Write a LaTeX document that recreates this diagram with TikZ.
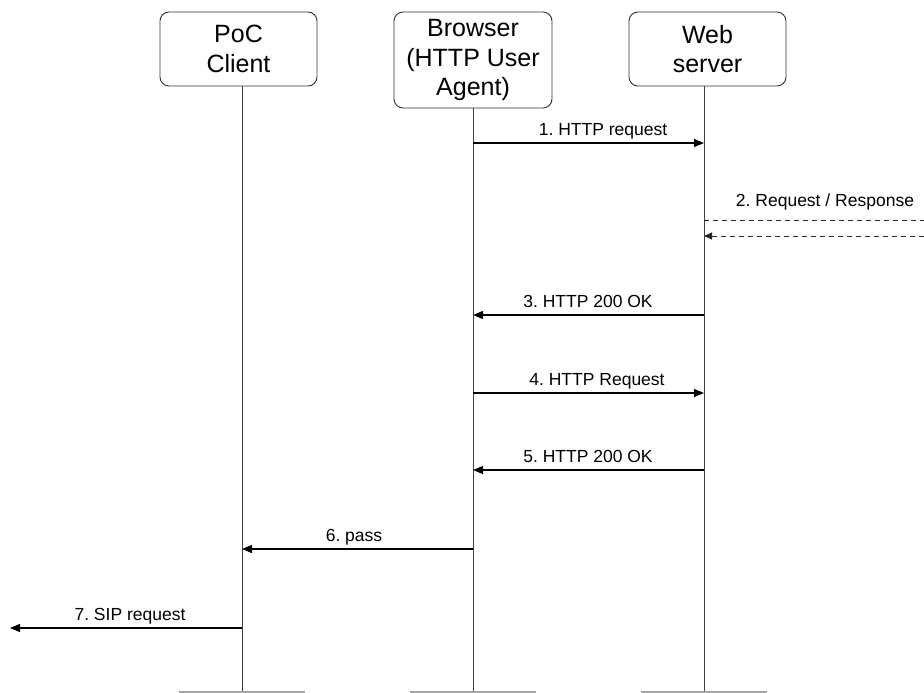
\documentclass[tikz,border=0pt]{standalone}
\usepackage{fontspec}
\setmainfont{Liberation Sans}
\frenchspacing
\usetikzlibrary{arrows.meta}
\begin{document}
\begin{tikzpicture}[x=1pt,y=-1pt,
  entity/.style={draw=black!80, line width=0.9pt, rounded corners=9pt, minimum width=157pt,
    align=center, font=\fontsize{25}{29.5}\selectfont, inner sep=0pt},
  life/.style={draw=black!75, line width=1pt},
  foot/.style={draw=black!35, line width=1.6pt},
  msg/.style={draw=black, line width=1.2pt, -{Triangle[length=10pt,width=8pt]}},
  dmsg/.style={draw=black!85, line width=0.9pt, dash pattern=on 5pt off 4pt},
  lbl/.style={font=\fontsize{17.5}{20}\selectfont\frenchspacing, anchor=base, inner sep=0pt}]
\useasboundingbox (0,0) rectangle (924,693);
% entities
\node[entity, minimum height=74pt] (poc) at (238.5,49) {PoC\\Client};
\node[entity, minimum height=96pt, minimum width=158pt] (br) at (473,60) {Browser\\(HTTP User\\Agent)};
\node[entity, minimum height=74pt] (ws) at (707.5,49) {Web\\server};
% lifeline ends
\coordinate (pocT) at (242,86);
\coordinate (pocE) at (242,691);
\coordinate (brE) at (473,691);
\coordinate (wsE) at (704,691);
\coordinate (wsT) at (704,86);
\draw[life] (pocT) -- (pocE);
\draw[life] (br.south) -- (brE);
\draw[life] (wsT) -- (wsE);
% feet
\coordinate (pocL) at (179,692); \coordinate (pocR) at (305,692);
\coordinate (brL) at (410,692); \coordinate (brR) at (536,692);
\coordinate (wsL) at (641,692); \coordinate (wsR) at (767,692);
\draw[foot] (pocL) -- (pocR);
\draw[foot] (brL) -- (brR);
\draw[foot] (wsL) -- (wsR);
% message end points
\coordinate (b1) at (473,143); \coordinate (w1) at (704,143);
\coordinate (w2a) at (704,220); \coordinate (x2a) at (924,220);
\coordinate (w2b) at (704,236); \coordinate (x2b) at (924,236);
\coordinate (w3) at (704,315); \coordinate (b3) at (473,315);
\coordinate (b4) at (473,393); \coordinate (w4) at (704,393);
\coordinate (w5) at (704,470); \coordinate (b5) at (473,470);
\coordinate (b6) at (473,549); \coordinate (p6) at (242,549);
\coordinate (p7) at (242,628); \coordinate (x7) at (10,628);
% messages
\draw[msg] (b1) -- (w1);
\node[lbl] (l1) at (603,135) {1. HTTP request};
\draw[dmsg] (w2a) -- (x2a);
\draw[dmsg, -{Triangle[length=8pt,width=7pt]}] (x2b) -- (w2b);
\node[lbl] (l2) at (825,206) {2. Request / Response};
\draw[msg] (w3) -- (b3);
\node[lbl] (l3) at (588,307) {3. HTTP 200 OK};
\draw[msg] (b4) -- (w4);
\node[lbl] (l4) at (597,385) {4. HTTP Request};
\draw[msg] (w5) -- (b5);
\node[lbl] (l5) at (588,462) {5. HTTP 200 OK};
\draw[msg] (b6) -- (p6);
\node[lbl] (l6) at (354,541) {6. pass};
\draw[msg] (p7) -- (x7);
\node[lbl] (l7) at (130,620) {7. SIP request};
\end{tikzpicture}
\end{document}
